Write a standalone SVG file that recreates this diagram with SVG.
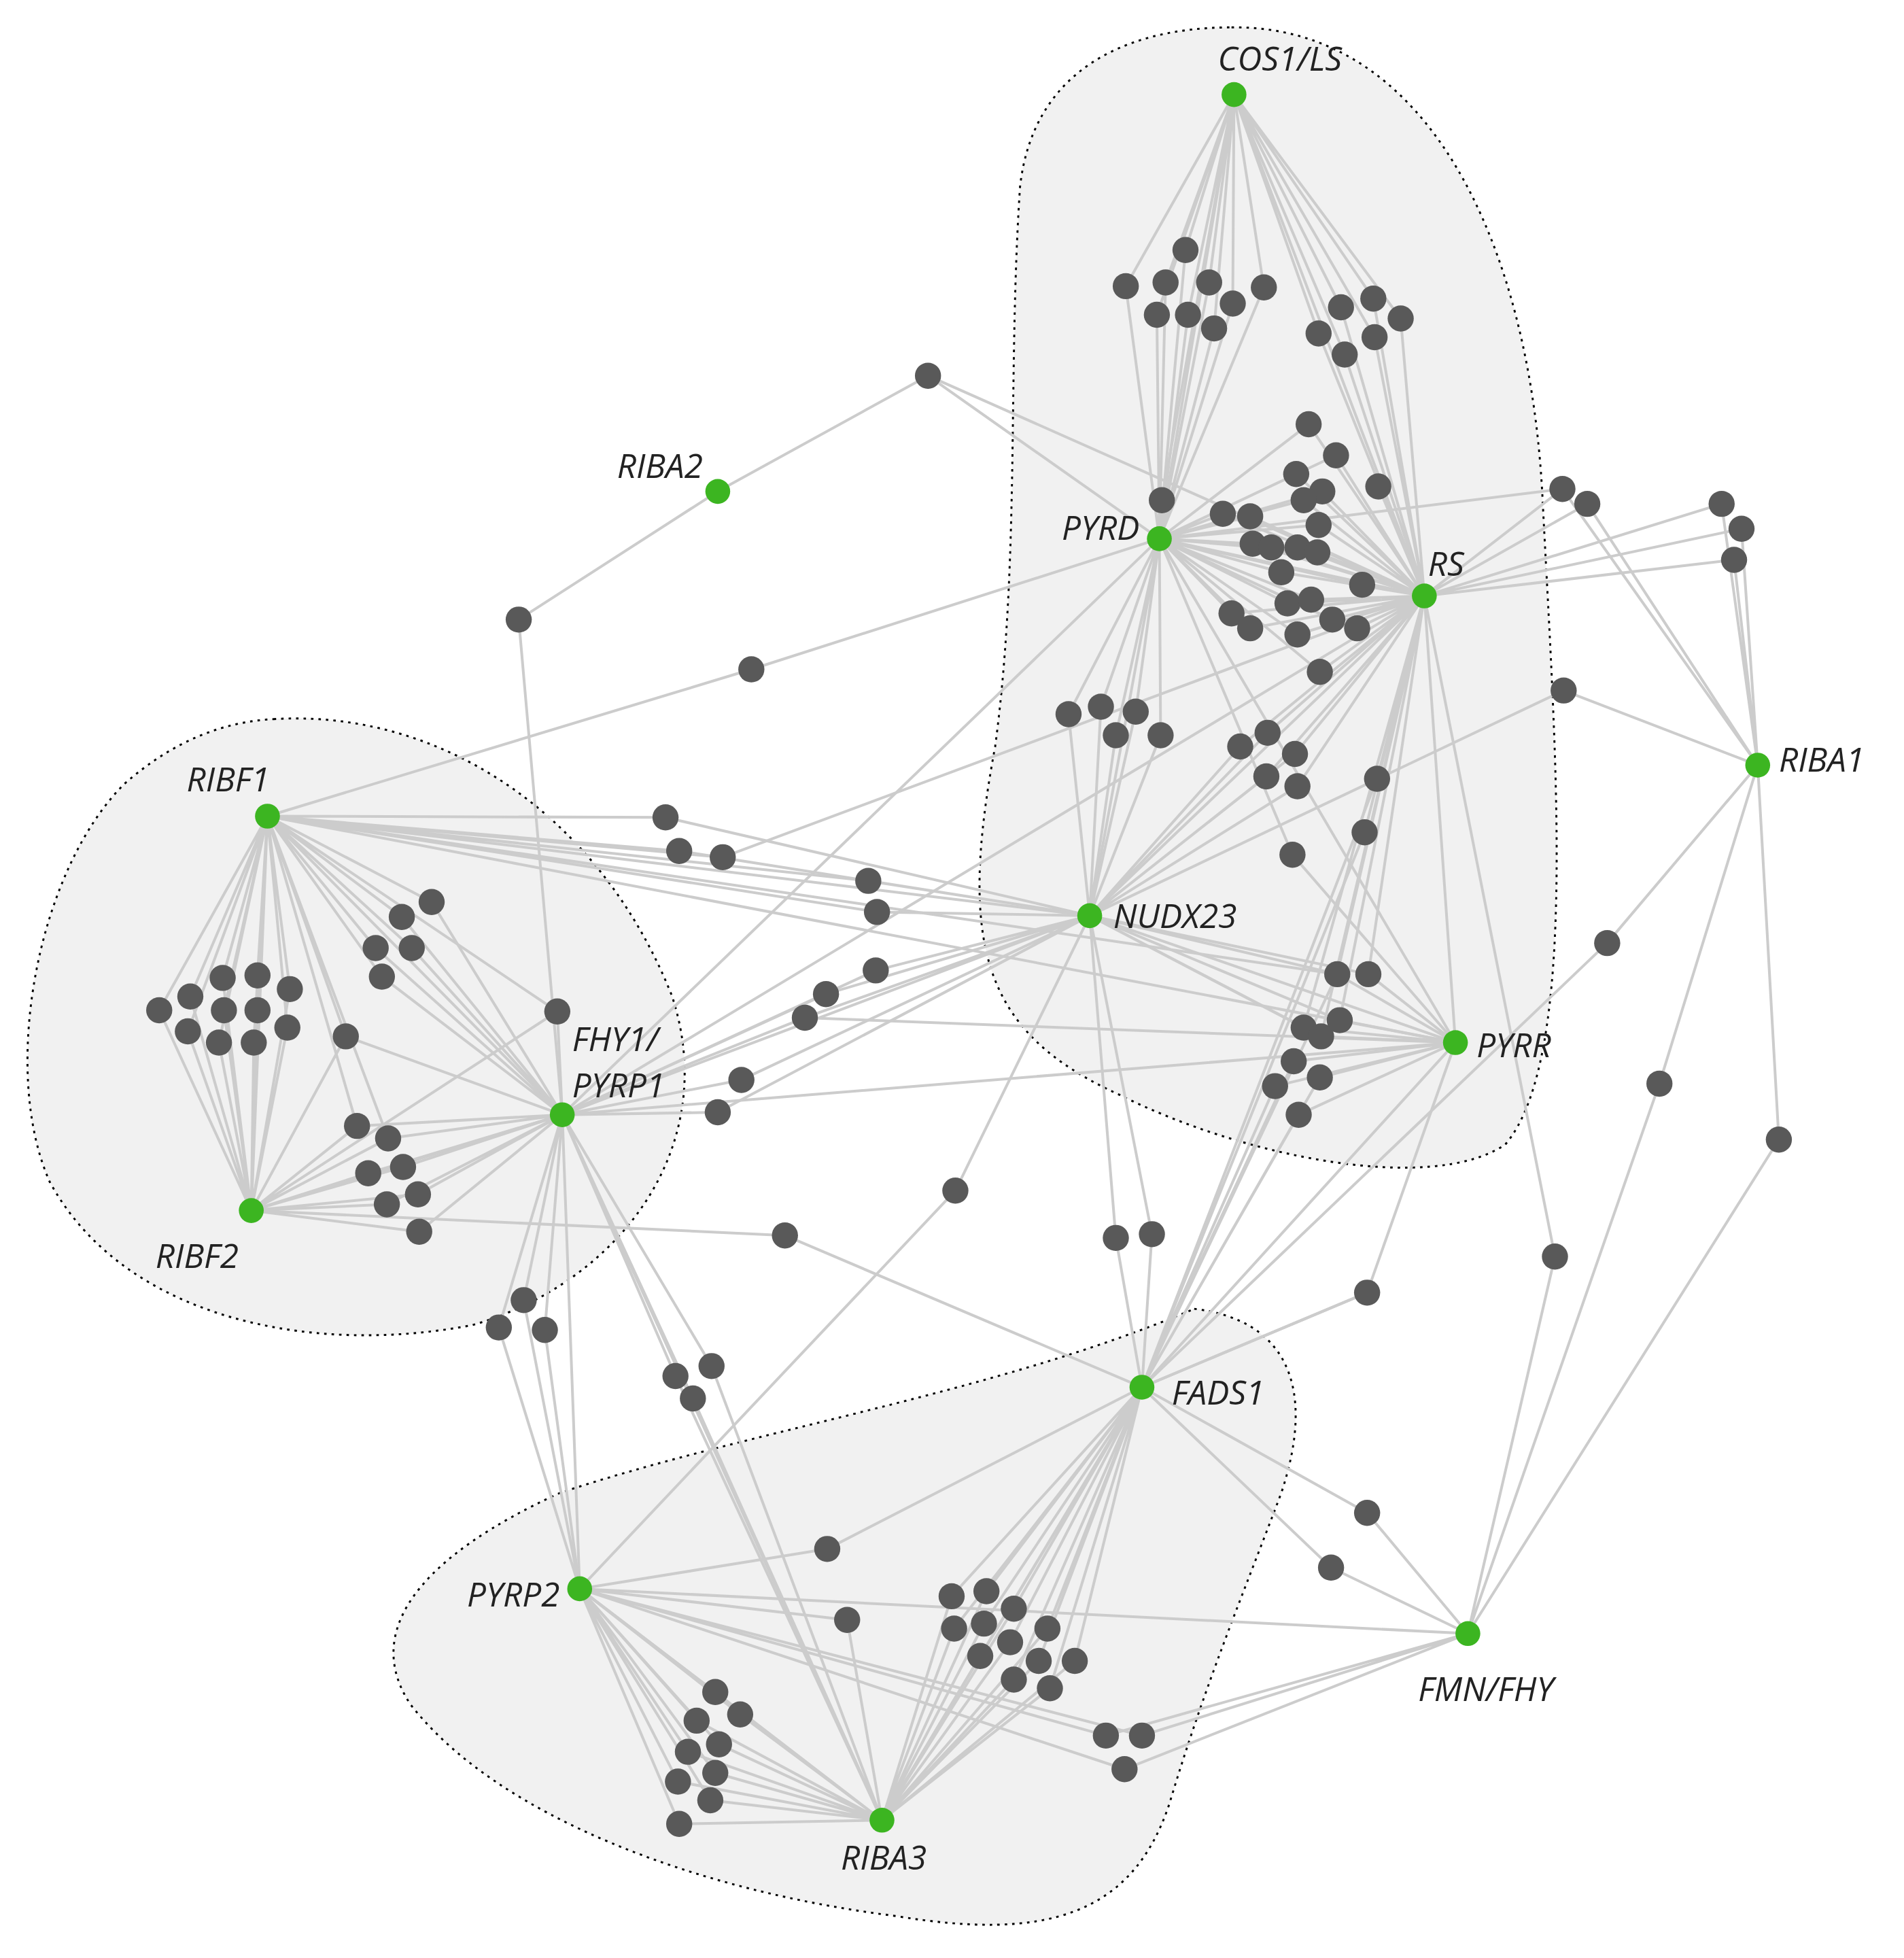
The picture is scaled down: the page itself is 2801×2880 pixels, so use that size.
<svg xmlns="http://www.w3.org/2000/svg" width="2801" height="2880" viewBox="0 0 2801 2880">
<style>
.hull{fill:#f1f1f1;stroke:#000;stroke-width:1.6;stroke-dasharray:2 4}
.e{fill:none;stroke:#cccccc;stroke-width:2.2}
.g{fill:#595959}
.k{fill:#3cb521}
text{font-family:"Open Sans","DejaVu Sans",sans-serif;font-style:italic;font-size:27px;fill:#222}
</style>
<rect width="2801" height="2880" fill="#fff"/>
<g transform="scale(1.83)">
<g id="hulls">
<path class="hull" d="M990,22 C1150,20 1230,200 1240,400 C1250,600 1270,850 1210,920 C1150,960 1000,930 900,880 C790,830 770,760 800,600 C820,450 810,300 820,150 C830,60 900,22 990,22 Z"/>
<path class="hull" d="M220,578 C350,570 480,650 540,800 C580,920 500,1030 380,1065 C250,1090 100,1060 40,950 C0,860 30,700 100,630 C140,595 180,580 220,578 Z"/>
<path class="hull" d="M960,1052 C1030,1060 1060,1110 1030,1200 C1000,1280 970,1350 940,1450 C910,1540 840,1560 720,1540 C560,1520 400,1460 330,1370 C290,1310 340,1250 450,1200 C600,1150 800,1120 960,1052 Z"/>
</g>
<g id="edges" class="e">
<path class="e" d="M992,76L953,201M992,76L905,230M992,76L937,227M992,76L972,227M992,76L1016,231M992,76L930,253M992,76L955,253M992,76L991,244M992,76L976,264M992,76L1078,247M992,76L1104,240M992,76L1126,256M992,76L1060,268M992,76L1105,271M992,76L1081,285M992,76L934,402M992,76L1145,479M992,76L932,433"/>
<path class="e" d="M932,433L953,201M932,433L905,230M932,433L937,227M932,433L972,227M932,433L1016,231M932,433L930,253M932,433L955,253M932,433L991,244M932,433L976,264M932,433L934,402M932,433L604,538M932,433L1145,479M932,433L876,736M932,433L1039,687M932,433L859,574M932,433L885,568M932,433L913,572M932,433L897,591M932,433L933,591M932,433L1052,341M932,433L1074,366M932,433L1042,381M932,433L1063,395M932,433L1048,402M932,433L1060,422M932,433L983,413M932,433L1005,415M932,433L1007,437M932,433L1022,440M932,433L1043,440M932,433L1059,444M932,433L1030,460M932,433L1095,470M932,433L1035,485M932,433L1054,482M932,433L990,493M932,433L1005,505M932,433L1071,498M932,433L1043,510M932,433L1061,540M932,433L1170,838M932,433L452,896M932,433L1256,393"/>
<path class="e" d="M1145,479L1078,247M1145,479L1104,240M1145,479L1126,256M1145,479L1060,268M1145,479L1105,271M1145,479L1081,285M1145,479L1052,341M1145,479L1074,366M1145,479L1042,381M1145,479L1108,391M1145,479L1063,395M1145,479L1048,402M1145,479L1060,422M1145,479L983,413M1145,479L1005,415M1145,479L1007,437M1145,479L1022,440M1145,479L1043,440M1145,479L1059,444M1145,479L1030,460M1145,479L1095,470M1145,479L1035,485M1145,479L1054,482M1145,479L990,493M1145,479L1005,505M1145,479L1071,498M1145,479L1091,505M1145,479L1043,510M1145,479L1061,540M1145,479L746,302M1145,479L1256,393M1145,479L1276,405M1145,479L1384,405M1145,479L1400,425M1145,479L1394,450M1145,479L997,600M1145,479L1019,589M1145,479L1041,606M1145,479L1018,624M1145,479L1043,632M1145,479L1107,626M1145,479L1097,669M1145,479L876,736M1145,479L1075,783M1145,479L1100,783M1145,479L1048,826M1145,479L1077,820M1145,479L1062,833M1145,479L1250,1010M1145,479L1170,838M1145,479L581,689M1145,479L452,896"/>
<path class="e" d="M1413,615L1256,393M1413,615L1276,405M1413,615L1384,405M1413,615L1400,425M1413,615L1394,450M1413,615L1257,555M1413,615L1292,758M1413,615L1334,871M1413,615L1430,916M1257,555L876,736M1292,758L918,1115M1334,871L1180,1313M1430,916L1180,1313M1250,1010L1180,1313"/>
<path class="e" d="M577,395L746,302M577,395L417,498M417,498L452,896M604,538L215,656M746,302L932,433"/>
<path class="e" d="M876,736L859,574M876,736L885,568M876,736L913,572M876,736L897,591M876,736L933,591M876,736L997,600M876,736L1019,589M876,736L1041,606M876,736L1018,624M876,736L1043,632M876,736L535,657M876,736L546,684M876,736L698,708M876,736L705,733M876,736L704,780M876,736L664,799M876,736L647,818M876,736L596,868M876,736L577,894M876,736L1075,783M876,736L1100,783M876,736L1048,826M876,736L1077,820M876,736L1170,838M876,736L768,957M876,736L897,995M876,736L926,992M876,736L1062,833M876,736L452,896"/>
<path class="e" d="M215,656L535,657M215,656L546,684M215,656L581,689M215,656L698,708M215,656L705,733M215,656L876,736M215,656L1170,838M215,656L1075,783M215,656L323,737M215,656L347,725M215,656L302,762M215,656L331,762M215,656L307,785M215,656L278,833M215,656L448,813M215,656L452,896M215,656L128,812M215,656L153,801M215,656L179,786M215,656L207,784M215,656L233,795M215,656L151,829M215,656L176,838M215,656L204,838M215,656L231,826M215,656L180,812M215,656L207,812M215,656L202,973M215,656L287,905M215,656L312,915"/>
<path class="e" d="M202,973L128,812M202,973L153,801M202,973L179,786M202,973L207,784M202,973L233,795M202,973L151,829M202,973L176,838M202,973L204,838M202,973L231,826M202,973L180,812M202,973L207,812M202,973L278,833M202,973L287,905M202,973L312,915M202,973L296,943M202,973L324,938M202,973L311,968M202,973L336,960M202,973L337,990M202,973L631,993M202,973L452,896M202,973L448,813"/>
<path class="e" d="M452,896L323,737M452,896L347,725M452,896L302,762M452,896L331,762M452,896L307,785M452,896L448,813M452,896L287,905M452,896L312,915M452,896L296,943M452,896L324,938M452,896L311,968M452,896L336,960M452,896L337,990M452,896L704,780M452,896L664,799M452,896L647,818M452,896L596,868M452,896L577,894M452,896L421,1045M452,896L401,1067M452,896L438,1069M452,896L543,1106M452,896L572,1098M452,896L557,1124M452,896L466,1277M452,896L709,1463M452,896L278,833M452,896L1170,838"/>
<path class="e" d="M1170,838L1075,783M1170,838L1100,783M1170,838L1048,826M1170,838L1077,820M1170,838L1062,833M1170,838L1040,853M1170,838L1025,873M1170,838L1061,866M1170,838L1044,896M1170,838L1039,687M1170,838L1099,1039M1170,838L918,1115M1170,838L647,818"/>
<path class="e" d="M918,1115L1040,853M918,1115L1025,873M918,1115L1061,866M918,1115L1044,896M918,1115L1107,626M918,1115L1097,669M918,1115L897,995M918,1115L926,992M918,1115L1099,1039M918,1115L631,993M918,1115L1099,1216M918,1115L1070,1260M918,1115L665,1245M918,1115L709,1463M918,1115L765,1283M918,1115L793,1279M918,1115L767,1309M918,1115L791,1305M918,1115L815,1293M918,1115L842,1309M918,1115L812,1320M918,1115L788,1331M918,1115L835,1335M918,1115L864,1335M918,1115L815,1350M918,1115L844,1357M918,1115L1075,783"/>
<path class="e" d="M709,1463L765,1283M709,1463L793,1279M709,1463L767,1309M709,1463L791,1305M709,1463L815,1293M709,1463L842,1309M709,1463L812,1320M709,1463L788,1331M709,1463L835,1335M709,1463L864,1335M709,1463L815,1350M709,1463L844,1357M709,1463L575,1360M709,1463L560,1383M709,1463L595,1378M709,1463L578,1402M709,1463L553,1408M709,1463L575,1425M709,1463L545,1432M709,1463L571,1447M709,1463L546,1466M709,1463L466,1277M709,1463L543,1106M709,1463L572,1098M709,1463L557,1124M709,1463L681,1302"/>
<path class="e" d="M466,1277L575,1360M466,1277L560,1383M466,1277L595,1378M466,1277L578,1402M466,1277L553,1408M466,1277L575,1425M466,1277L545,1432M466,1277L571,1447M466,1277L546,1466M466,1277L421,1045M466,1277L401,1067M466,1277L438,1069M466,1277L665,1245M466,1277L681,1302M466,1277L889,1395M466,1277L918,1395M466,1277L904,1422M466,1277L768,957M466,1277L1180,1313"/>
<path class="e" d="M1180,1313L889,1395M1180,1313L918,1395M1180,1313L904,1422M1180,1313L1099,1216M1180,1313L1070,1260M1099,1039L918,1115"/>
</g>
<g id="gray-nodes" class="g">
<circle id="n1" cx="953" cy="201" r="10.5"/><circle id="n2" cx="905" cy="230" r="10.5"/><circle id="n3" cx="937" cy="227" r="10.5"/><circle id="n4" cx="972" cy="227" r="10.5"/><circle id="n5" cx="1016" cy="231" r="10.5"/><circle id="n6" cx="930" cy="253" r="10.5"/><circle id="n7" cx="955" cy="253" r="10.5"/><circle id="n8" cx="991" cy="244" r="10.5"/><circle id="n9" cx="976" cy="264" r="10.5"/>
<circle id="n10" cx="1078" cy="247" r="10.5"/><circle id="n11" cx="1104" cy="240" r="10.5"/><circle id="n12" cx="1126" cy="256" r="10.5"/><circle id="n13" cx="1060" cy="268" r="10.5"/><circle id="n14" cx="1105" cy="271" r="10.5"/><circle id="n15" cx="1081" cy="285" r="10.5"/>
<circle id="n16" cx="746" cy="302" r="10.5"/><circle id="n17" cx="417" cy="498" r="10.5"/><circle id="n18" cx="604" cy="538" r="10.5"/><circle id="n19" cx="934" cy="402" r="10.5"/>
<circle id="n20" cx="1052" cy="341" r="10.5"/><circle id="n21" cx="1074" cy="366" r="10.5"/><circle id="n22" cx="1042" cy="381" r="10.5"/><circle id="n23" cx="1108" cy="391" r="10.5"/><circle id="n24" cx="1063" cy="395" r="10.5"/><circle id="n25" cx="1048" cy="402" r="10.5"/><circle id="n26" cx="1060" cy="422" r="10.5"/><circle id="n27" cx="983" cy="413" r="10.5"/><circle id="n28" cx="1005" cy="415" r="10.5"/><circle id="n29" cx="1007" cy="437" r="10.5"/><circle id="n30" cx="1022" cy="440" r="10.5"/><circle id="n31" cx="1043" cy="440" r="10.5"/><circle id="n32" cx="1059" cy="444" r="10.5"/><circle id="n33" cx="1030" cy="460" r="10.5"/><circle id="n34" cx="1095" cy="470" r="10.5"/><circle id="n35" cx="1035" cy="485" r="10.5"/><circle id="n36" cx="1054" cy="482" r="10.5"/><circle id="n37" cx="990" cy="493" r="10.5"/><circle id="n38" cx="1005" cy="505" r="10.5"/><circle id="n39" cx="1071" cy="498" r="10.5"/><circle id="n40" cx="1091" cy="505" r="10.5"/><circle id="n41" cx="1043" cy="510" r="10.5"/><circle id="n42" cx="1061" cy="540" r="10.5"/>
<circle id="n43" cx="1256" cy="393" r="10.5"/><circle id="n44" cx="1276" cy="405" r="10.5"/><circle id="n45" cx="1384" cy="405" r="10.5"/><circle id="n46" cx="1400" cy="425" r="10.5"/><circle id="n47" cx="1394" cy="450" r="10.5"/><circle id="n48" cx="1257" cy="555" r="10.5"/>
<circle id="n49" cx="859" cy="574" r="10.5"/><circle id="n50" cx="885" cy="568" r="10.5"/><circle id="n51" cx="913" cy="572" r="10.5"/><circle id="n52" cx="897" cy="591" r="10.5"/><circle id="n53" cx="933" cy="591" r="10.5"/>
<circle id="n54" cx="997" cy="600" r="10.5"/><circle id="n55" cx="1019" cy="589" r="10.5"/><circle id="n56" cx="1041" cy="606" r="10.5"/><circle id="n57" cx="1018" cy="624" r="10.5"/><circle id="n58" cx="1043" cy="632" r="10.5"/>
<circle id="n59" cx="1107" cy="626" r="10.5"/><circle id="n60" cx="1097" cy="669" r="10.5"/><circle id="n61" cx="1039" cy="687" r="10.5"/>
<circle id="n62" cx="535" cy="657" r="10.5"/><circle id="n63" cx="546" cy="684" r="10.5"/><circle id="n64" cx="581" cy="689" r="10.5"/><circle id="n65" cx="698" cy="708" r="10.5"/><circle id="n66" cx="705" cy="733" r="10.5"/><circle id="n67" cx="704" cy="780" r="10.5"/><circle id="n68" cx="664" cy="799" r="10.5"/><circle id="n69" cx="647" cy="818" r="10.5"/><circle id="n70" cx="596" cy="868" r="10.5"/><circle id="n71" cx="577" cy="894" r="10.5"/>
<circle id="n72" cx="1292" cy="758" r="10.5"/><circle id="n73" cx="1075" cy="783" r="10.5"/><circle id="n74" cx="1100" cy="783" r="10.5"/><circle id="n75" cx="1048" cy="826" r="10.5"/><circle id="n76" cx="1077" cy="820" r="10.5"/><circle id="n77" cx="1062" cy="833" r="10.5"/><circle id="n78" cx="1040" cy="853" r="10.5"/><circle id="n79" cx="1025" cy="873" r="10.5"/><circle id="n80" cx="1061" cy="866" r="10.5"/><circle id="n81" cx="1044" cy="896" r="10.5"/><circle id="n82" cx="1334" cy="871" r="10.5"/><circle id="n83" cx="1430" cy="916" r="10.5"/><circle id="n84" cx="768" cy="957" r="10.5"/>
<circle id="n85" cx="128" cy="812" r="10.5"/><circle id="n86" cx="153" cy="801" r="10.5"/><circle id="n87" cx="179" cy="786" r="10.5"/><circle id="n88" cx="207" cy="784" r="10.5"/><circle id="n89" cx="233" cy="795" r="10.5"/><circle id="n90" cx="151" cy="829" r="10.5"/><circle id="n91" cx="176" cy="838" r="10.5"/><circle id="n92" cx="204" cy="838" r="10.5"/><circle id="n93" cx="231" cy="826" r="10.5"/><circle id="n94" cx="180" cy="812" r="10.5"/><circle id="n95" cx="207" cy="812" r="10.5"/>
<circle id="n96" cx="323" cy="737" r="10.5"/><circle id="n97" cx="347" cy="725" r="10.5"/><circle id="n98" cx="302" cy="762" r="10.5"/><circle id="n99" cx="331" cy="762" r="10.5"/><circle id="n100" cx="307" cy="785" r="10.5"/><circle id="n101" cx="278" cy="833" r="10.5"/><circle id="n102" cx="448" cy="813" r="10.5"/>
<circle id="n103" cx="287" cy="905" r="10.5"/><circle id="n104" cx="312" cy="915" r="10.5"/><circle id="n105" cx="296" cy="943" r="10.5"/><circle id="n106" cx="324" cy="938" r="10.5"/><circle id="n107" cx="311" cy="968" r="10.5"/><circle id="n108" cx="336" cy="960" r="10.5"/><circle id="n109" cx="337" cy="990" r="10.5"/>
<circle id="n110" cx="631" cy="993" r="10.5"/><circle id="n111" cx="897" cy="995" r="10.5"/><circle id="n112" cx="926" cy="992" r="10.5"/><circle id="n113" cx="1099" cy="1039" r="10.5"/><circle id="n114" cx="1250" cy="1010" r="10.5"/>
<circle id="n115" cx="421" cy="1045" r="10.5"/><circle id="n116" cx="401" cy="1067" r="10.5"/><circle id="n117" cx="438" cy="1069" r="10.5"/><circle id="n118" cx="543" cy="1106" r="10.5"/><circle id="n119" cx="572" cy="1098" r="10.5"/><circle id="n120" cx="557" cy="1124" r="10.5"/>
<circle id="n121" cx="1099" cy="1216" r="10.5"/><circle id="n122" cx="1070" cy="1260" r="10.5"/><circle id="n123" cx="665" cy="1245" r="10.5"/><circle id="n124" cx="681" cy="1302" r="10.5"/>
<circle id="n125" cx="765" cy="1283" r="10.5"/><circle id="n126" cx="793" cy="1279" r="10.5"/><circle id="n127" cx="767" cy="1309" r="10.5"/><circle id="n128" cx="791" cy="1305" r="10.5"/><circle id="n129" cx="815" cy="1293" r="10.5"/><circle id="n130" cx="842" cy="1309" r="10.5"/><circle id="n131" cx="812" cy="1320" r="10.5"/><circle id="n132" cx="788" cy="1331" r="10.5"/><circle id="n133" cx="835" cy="1335" r="10.5"/><circle id="n134" cx="864" cy="1335" r="10.5"/><circle id="n135" cx="815" cy="1350" r="10.5"/><circle id="n136" cx="844" cy="1357" r="10.5"/>
<circle id="n137" cx="575" cy="1360" r="10.5"/><circle id="n138" cx="560" cy="1383" r="10.5"/><circle id="n139" cx="595" cy="1378" r="10.5"/><circle id="n140" cx="578" cy="1402" r="10.5"/><circle id="n141" cx="553" cy="1408" r="10.5"/><circle id="n142" cx="575" cy="1425" r="10.5"/><circle id="n143" cx="545" cy="1432" r="10.5"/><circle id="n144" cx="571" cy="1447" r="10.5"/><circle id="n145" cx="546" cy="1466" r="10.5"/>
<circle id="n146" cx="889" cy="1395" r="10.5"/><circle id="n147" cx="918" cy="1395" r="10.5"/><circle id="n148" cx="904" cy="1422" r="10.5"/>
</g>
<g id="COS1"><circle class="k" cx="992" cy="76" r="10"/><text x="979" y="57">COS1/LS</text></g>
<g id="PYRD"><circle class="k" cx="932" cy="433" r="10"/><text x="916" y="434" text-anchor="end">PYRD</text></g>
<g id="RS"><circle class="k" cx="1145" cy="479" r="10"/><text x="1148" y="463">RS</text></g>
<g id="RIBA2"><circle class="k" cx="577" cy="395" r="10"/><text x="565" y="384" text-anchor="end">RIBA2</text></g>
<g id="RIBA1"><circle class="k" cx="1413" cy="615" r="10"/><text x="1430" y="620">RIBA1</text></g>
<g id="RIBF1"><circle class="k" cx="215" cy="656" r="10"/><text x="150" y="636">RIBF1</text></g>
<g id="NUDX23"><circle class="k" cx="876" cy="736" r="10"/><text x="895" y="746">NUDX23</text></g>
<g id="PYRR"><circle class="k" cx="1170" cy="838" r="10"/><text x="1187" y="850">PYRR</text></g>
<g id="FHY1"><circle class="k" cx="452" cy="896" r="10"/><text x="460" y="845">FHY1/</text><text x="460" y="882">PYRP1</text></g>
<g id="RIBF2"><circle class="k" cx="202" cy="973" r="10"/><text x="125" y="1019">RIBF2</text></g>
<g id="FADS1"><circle class="k" cx="918" cy="1115" r="10"/><text x="942" y="1129">FADS1</text></g>
<g id="PYRP2"><circle class="k" cx="466" cy="1277" r="10"/><text x="450" y="1291" text-anchor="end">PYRP2</text></g>
<g id="FMNFHY"><circle class="k" cx="1180" cy="1313" r="10"/><text x="1140" y="1367">FMN/FHY</text></g>
<g id="RIBA3"><circle class="k" cx="709" cy="1463" r="10"/><text x="676" y="1503">RIBA3</text></g>
</g>
</svg>
